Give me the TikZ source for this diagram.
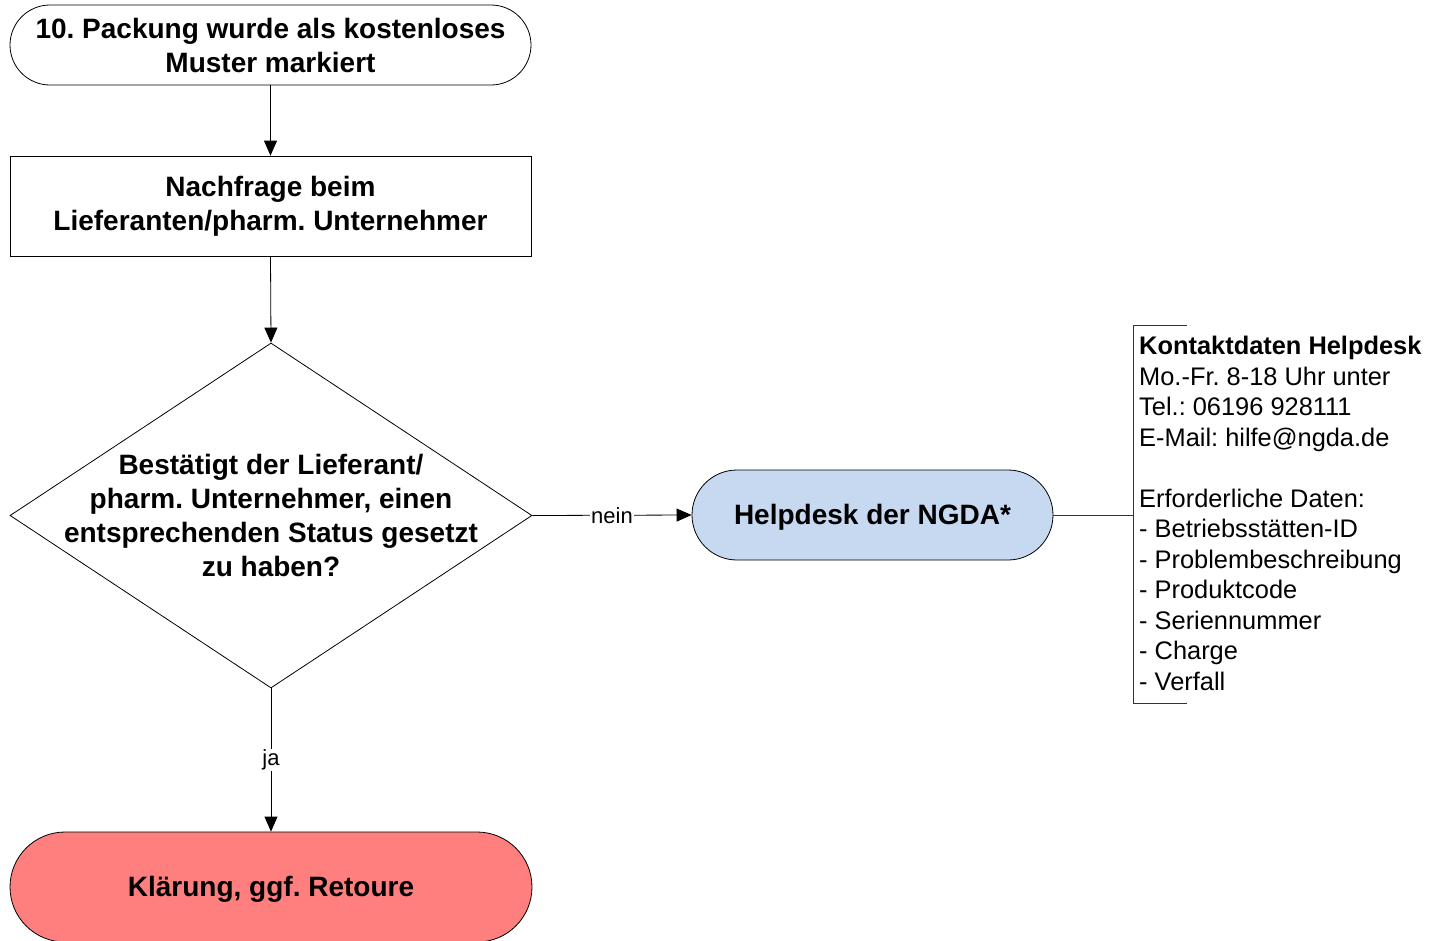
\documentclass[tikz,border=0pt]{standalone}
\usepackage{fontspec}
\setmainfont{Liberation Sans}
\usetikzlibrary{shapes.misc,shapes.geometric,arrows.meta}
\definecolor{helpblue}{HTML}{C6D9F1}
\definecolor{retred}{HTML}{FF7F7F}
\frenchspacing
\begin{document}
\begin{tikzpicture}[x=1pt,y=-1pt,
  every node/.style={inner sep=0pt},
  flowtext/.style={font=\fontsize{28}{34}\selectfont\bfseries, align=center, text=black},
  flow/.style={flowtext, draw=black, line width=0.8pt},
  stadium/.style={flow, rounded rectangle},
  conn/.style={draw=black, line width=0.8pt, -{Triangle[length=15pt,width=13pt]}},
  plainline/.style={draw=black!80, line width=0.8pt},
  lbl/.style={font=\fontsize{22}{26}\selectfont, fill=white, inner sep=1pt},
  notetext/.style={font=\fontsize{25.4}{30.5}\selectfont, align=left, anchor=north west}]
\useasboundingbox (0,0) rectangle (1430,940);
\node[stadium, minimum width=521pt, minimum height=80pt] (n1) at (270.5,45) {10. Packung wurde als kostenloses\\Muster markiert};
\node[flow, rectangle, minimum width=521pt, minimum height=100pt] (n2) at (270.5,206) {Nachfrage beim\\Lieferanten/pharm. Unternehmer};
\node[draw=black, line width=0.8pt, diamond, minimum width=522pt, minimum height=345pt] (n3) at (271,515.5) {};
\node[flowtext] (n3t) at (n3.center) {Bestätigt der Lieferant/\\pharm. Unternehmer, einen\\entsprechenden Status gesetzt\\zu haben?};
\node[stadium, fill=helpblue, minimum width=361pt, minimum height=90pt] (n4) at (872.5,515) {\raisebox{-2.5pt}[\height][\depth]{Helpdesk der NGDA*}};
\node[stadium, fill=retred, minimum width=522pt, minimum height=110pt] (n5) at (271,887) {\raisebox{-2.5pt}[\height][\depth]{Klärung, ggf. Retoure}};
\draw[conn] (n1.south) -- (n2.north);
\draw[conn] (n2.south) -- (n3.north);
\draw[conn] (n3.east) -- node[lbl] {nein} (n4.west);
\draw[conn] (n3.south) -- node[lbl] {ja} (n5.north);
\coordinate (brk) at (1133,515);
\draw[plainline] (n4.east) -- (brk);
\draw[plainline] (1187,325) -- (1133,325) -- (1133,703) -- (1187,703);
\node[notetext] (note) at (1139,336) {\textbf{Kontaktdaten Helpdesk}\\Mo.-Fr. 8-18 Uhr unter\\Tel.: 06196 928111\\E-Mail: hilfe@ngda.de\\[30.5pt]Erforderliche Daten:\\- Betriebsstätten-ID\\- Problembeschreibung\\- Produktcode\\- Seriennummer\\- Charge\\- Verfall};
\end{tikzpicture}
\end{document}
